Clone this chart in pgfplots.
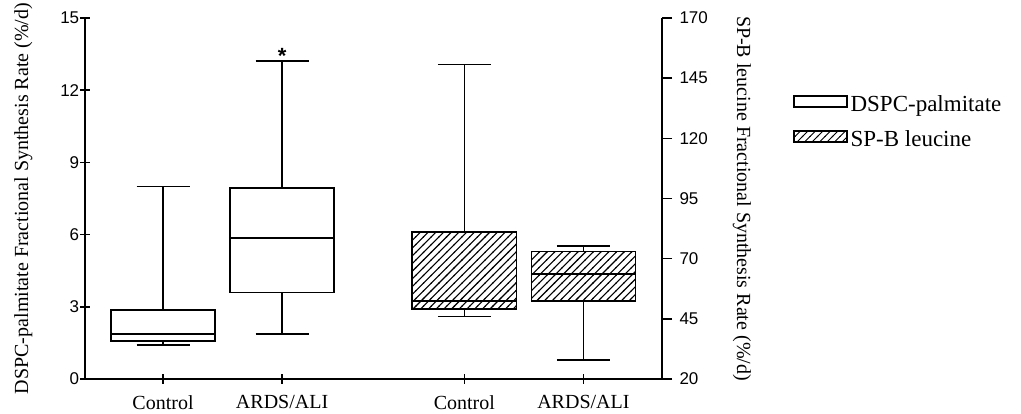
\documentclass[border=0pt]{standalone}
\usepackage{pgfplots}
\pgfplotsset{compat=1.18}
\usepgfplotslibrary{statistics}
\usetikzlibrary{patterns}
\usepackage{fontspec}
\setmainfont{Liberation Serif}
\newfontfamily\ticksf{Liberation Sans}
\pgfdeclarepatternformonly{hatchbig}{\pgfqpoint{-1pt}{-1pt}}{\pgfqpoint{8.7pt}{8.7pt}}{\pgfqpoint{7.7pt}{7.7pt}}{%
  \pgfsetlinewidth{1.1pt}%
  \pgfpathmoveto{\pgfqpoint{-0.5pt}{-0.5pt}}%
  \pgfpathlineto{\pgfqpoint{8.2pt}{8.2pt}}%
  \pgfusepath{stroke}}
\pgfdeclarepatternformonly{hatchsmall}{\pgfqpoint{-1pt}{-1pt}}{\pgfqpoint{8.5pt}{8.5pt}}{\pgfqpoint{7.5pt}{7.5pt}}{%
  \pgfsetlinewidth{1pt}%
  \pgfpathmoveto{\pgfqpoint{-0.5pt}{-0.5pt}}%
  \pgfpathlineto{\pgfqpoint{8pt}{8pt}}%
  \pgfusepath{stroke}}
\begin{document}
\begin{tikzpicture}
\pgfplotsset{
  base/.style={
    scale only axis, width=577pt, height=361pt,
    xmin=0.345, xmax=5.19,
    axis line style={line width=1.6pt},
    tick style={line width=1.6pt, black},
    major tick length=10pt,
    tick align=outside,
    /pgf/number format/assume math mode=true,
    tick label style={font=\ticksf\fontsize{17}{20}\selectfont},
    label style={font=\fontsize{20}{24}\selectfont},
    clip=false,
  },
  bx/.style={solid, draw=black, line width=1.6pt, mark=none,
    boxplot/draw direction=y,
    boxplot/box extend=0.874, boxplot/whisker extend=0.445},
}
\begin{axis}[base, name=ax,
  axis x line=bottom, axis y line=left,
  x axis line style={-}, y axis line style={-},
  ymin=0, ymax=15, ytick={0,3,6,9,12,15},
  xtick={1,2,3.53,4.53},
  xticklabels={Control,ARDS/ALI,Control,ARDS/ALI},
  xticklabel style={font=\fontsize{20}{24}\selectfont, yshift=-8pt},
  yticklabel style={xshift=2.7pt},
  ylabel={DSPC-palmitate Fractional Synthesis Rate (\%/d)},
  ylabel style={at={(axis description cs:-0.085,0.5)}},
]
\addplot+[bx, fill=white, boxplot prepared={draw position=1,
  lower whisker=1.42, lower quartile=1.58, median=1.87,
  upper quartile=2.87, upper whisker=8.0}] coordinates {};
\addplot+[bx, fill=white, boxplot prepared={draw position=2,
  lower whisker=1.87, lower quartile=3.6, median=5.86,
  upper quartile=7.93, upper whisker=13.21}] coordinates {};
\node[font=\ticksf\bfseries\fontsize{22}{24}\selectfont, anchor=base, inner sep=0pt] at (axis cs:2,13.09) {*};
\end{axis}
% right axis
\begin{axis}[base,
  hide x axis, axis y line*=right,
  y axis line style={-},
  ymin=20, ymax=170, ytick={20,45,70,95,120,145,170},
  yticklabel style={xshift=4pt},
  ylabel={SP-B leucine Fractional Synthesis Rate (\%/d)},
  ylabel style={rotate=180, at={(axis description cs:1.1165,0.5)}},
]
% hatched fill of the SP-B boxes (quartile ranges)
\addplot[draw=none, pattern=hatchbig] coordinates {(3.093,49.2) (3.967,49.2) (3.967,81.2) (3.093,81.2) (3.093,49.2)};
\addplot[draw=none, pattern=hatchbig] coordinates {(4.093,52.5) (4.967,52.5) (4.967,73.0) (4.093,73.0) (4.093,52.5)};
\addplot+[bx, fill=none, boxplot prepared={draw position=3.53,
  lower whisker=45.9, lower quartile=49.2, median=52.5,
  upper quartile=81.2, upper whisker=150.7}] coordinates {};
\addplot+[bx, fill=none, boxplot prepared={draw position=4.53,
  lower whisker=27.9, lower quartile=52.5, median=63.6,
  upper quartile=73.0, upper whisker=75.3}] coordinates {};
\end{axis}
\begin{axis}[scale only axis, width=577pt, height=361pt,
  xmin=0, xmax=1, ymin=0, ymax=1, hide axis,
  legend style={at={(1.227,0.795)}, anchor=north west, draw=none, fill=none,
    inner sep=0pt, font=\fontsize{23}{27}\selectfont, row sep=8pt,
    nodes={inner sep=3pt, text height=16pt, text depth=5pt},
    /tikz/every even column/.append style={column sep=11pt}},
  legend cell align=left,
]
\addlegendimage{legend image code/.code={\draw[black, line width=1.4pt, fill=white] (0pt,-1.5pt) rectangle (53pt,9.5pt);}}
\addlegendentry{DSPC-palmitate}
\addlegendimage{legend image code/.code={\draw[black, line width=1.4pt, pattern=hatchsmall] (0pt,-1.5pt) rectangle (53pt,9.5pt);}}
\addlegendentry{SP-B leucine}
\end{axis}
\pgfresetboundingbox
\path[use as bounding box] ([shift={(-85pt,-35pt)}]ax.south west) rectangle ([shift={(359pt,18pt)}]ax.north east);
\end{tikzpicture}
\end{document}
